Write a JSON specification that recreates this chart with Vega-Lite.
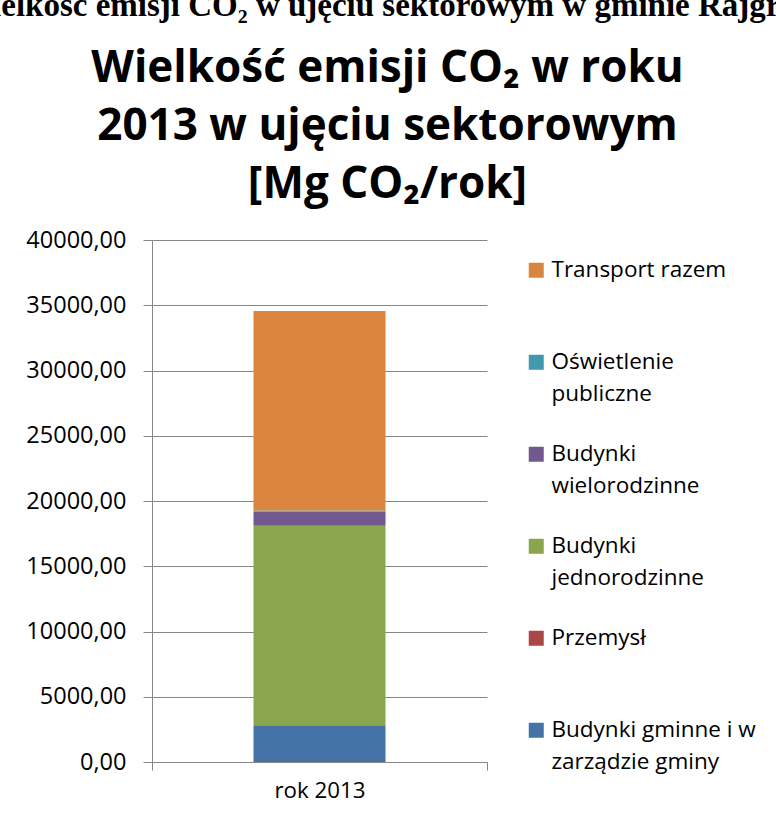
{
  "$schema": "https://vega.github.io/schema/vega-lite/v6.json",
  "autosize": {"type": "none"},
  "width": 335,
  "height": 522,
  "padding": {"left": 152, "top": 240, "right": 289, "bottom": 59},
  "background": "white",
  "config": {
    "view": {"stroke": null},
    "font": "Open Sans",
    "style": {"guide-label": {"lineHeight": 32}}
  },
  "title": {
    "text": "Wielkość emisji CO₂ w ujęciu sektorowym w gminie Rajgród",
    "subtitle": ["Wielkość emisji CO₂ w roku", "2013 w ujęciu sektorowym", "[Mg CO₂/rok]"],
    "anchor": "middle",
    "frame": "group",
    "dx": 68,
    "offset": 21,
    "font": "Liberation Serif",
    "fontSize": 33,
    "fontWeight": "bold",
    "color": "black",
    "subtitleFont": "Open Sans",
    "subtitleFontSize": 44,
    "subtitleFontWeight": "bold",
    "subtitleLineHeight": 58,
    "subtitleColor": "black",
    "subtitlePadding": 24
  },
  "data": {
    "values": [
      {"rok": "rok 2013", "sektor": "Budynki gminne i w zarządzie gminy", "nr": 1, "emisja": 2824},
      {"rok": "rok 2013", "sektor": "Przemysł", "nr": 2, "emisja": 0},
      {"rok": "rok 2013", "sektor": "Budynki jednorodzinne", "nr": 3, "emisja": 15283},
      {"rok": "rok 2013", "sektor": "Budynki wielorodzinne", "nr": 4, "emisja": 1094},
      {"rok": "rok 2013", "sektor": "Oświetlenie publiczne", "nr": 5, "emisja": 77},
      {"rok": "rok 2013", "sektor": "Transport razem", "nr": 6, "emisja": 15282}
    ]
  },
  "mark": {"type": "bar", "size": 132},
  "encoding": {
    "x": {
      "field": "rok",
      "type": "nominal",
      "scale": {"paddingInner": 0, "paddingOuter": 0},
      "axis": {
        "title": null,
        "labelAngle": 0,
        "tickBand": "extent",
        "domainColor": "#868686",
        "tickColor": "#868686",
        "tickSize": 8,
        "labelFontSize": 22.3,
        "labelColor": "black",
        "labelPadding": 9
      }
    },
    "y": {
      "field": "emisja",
      "type": "quantitative",
      "stack": "zero",
      "scale": {"domain": [0, 40000]},
      "axis": {
        "title": null,
        "values": [0, 5000, 10000, 15000, 20000, 25000, 30000, 35000, 40000],
        "labelExpr": "replace(format(datum.value, '.2f'), '.', ',')",
        "grid": true,
        "gridColor": "#868686",
        "domainColor": "#868686",
        "tickColor": "#868686",
        "tickSize": 9,
        "labelPadding": 17,
        "labelFontSize": 23.5,
        "labelColor": "black"
      }
    },
    "color": {
      "field": "sektor",
      "type": "nominal",
      "scale": {
        "domain": ["Transport razem", "Oświetlenie publiczne", "Budynki wielorodzinne", "Budynki jednorodzinne", "Przemysł", "Budynki gminne i w zarządzie gminy"],
        "range": ["#DB843D", "#4198AF", "#71588F", "#89A54E", "#AA4643", "#4572A7"]
      },
      "legend": {
        "title": null,
        "orient": "none",
        "legendX": 373,
        "legendY": 19,
        "padding": 0,
        "symbolType": "square",
        "symbolSize": 225,
        "symbolStrokeWidth": 0,
        "labelFontSize": 22.5,
        "labelColor": "black",
        "labelLimit": 400,
        "labelOffset": 4,
        "rowPadding": 37,
        "labelExpr": "datum.label == 'Transport razem' ? ['Transport razem', ''] : datum.label == 'Oświetlenie publiczne' ? ['Oświetlenie', 'publiczne'] : datum.label == 'Budynki wielorodzinne' ? ['Budynki', 'wielorodzinne'] : datum.label == 'Budynki jednorodzinne' ? ['Budynki', 'jednorodzinne'] : datum.label == 'Przemysł' ? ['Przemysł', ''] : ['Budynki gminne i w', 'zarządzie gminy']"
      }
    },
    "order": {"field": "nr", "type": "quantitative", "sort": "ascending"}
  }
}
